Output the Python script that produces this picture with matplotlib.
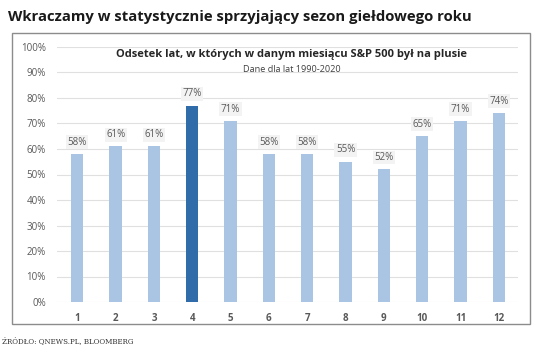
import matplotlib.pyplot as plt
from matplotlib.patches import Rectangle

months = list(range(1, 13))
values = [58, 61, 61, 77, 71, 58, 58, 55, 52, 65, 71, 74]
highlight = 4
yticks = list(range(0, 101, 10))

light = "#a9c5e3"
dark = "#2f6ca9"
tick_color = "#595959"

fig = plt.figure(figsize=(5.36, 3.57), dpi=100)
fig.patch.set_facecolor("white")

# frame round the chart
fig.patches.append(Rectangle((12 / 536, 1 - 324 / 357), 518 / 536, 291 / 357,
                             transform=fig.transFigure, fill=False,
                             edgecolor="#8c8c8c", linewidth=1.0))

ax = fig.add_axes([57 / 536, 1 - 302 / 357, 461 / 536, 255 / 357])
colors = [dark if m == highlight else light for m in months]
ax.bar(months, values, width=0.32, color=colors, zorder=2)

for m, v in zip(months, values):
    ax.text(m, v + 2.5, f"{v}%", ha="center", va="bottom", fontsize=7,
            color=tick_color, family="Open Sans",
            bbox=dict(boxstyle="square,pad=0.15", facecolor="#f3f3f3",
                      edgecolor="none"))

ax.set_xlim(0.47, 12.5)
ax.set_ylim(0, 100)
ax.set_yticks(yticks)
ax.set_yticklabels([f"{t}%" for t in yticks])
ax.set_xticks(months)
ax.grid(axis="y", color="#e0e0e0", linewidth=0.8, zorder=0)
for s in ax.spines.values():
    s.set_visible(False)
ax.tick_params(axis="both", length=0, colors=tick_color, labelsize=7)
ax.tick_params(axis="y", pad=8)
ax.tick_params(axis="x", pad=8)
for lbl in ax.get_xticklabels():
    lbl.set_fontweight("bold")
    lbl.set_family("Open Sans")
for lbl in ax.get_yticklabels():
    lbl.set_family("Open Sans")

fig.text(8 / 536, 1 - 17 / 357, "Wkraczamy w statystycznie sprzyjający sezon giełdowego roku",
         fontsize=10.7, fontweight="bold", family="Open Sans", color="#1a1a1a",
         va="center", ha="left")
fig.text(292 / 536, 1 - 55 / 357,
         "Odsetek lat, w których w danym miesiącu S&P 500 był na plusie",
         fontsize=8, fontweight="bold", family="Open Sans", color="#262626",
         ha="center", va="center")
fig.text(292 / 536, 1 - 69 / 357, "Dane dla lat 1990-2020", fontsize=6.6,
         family="Open Sans", color="#404040", ha="center", va="center")
fig.text(2 / 536, 1 - 341 / 357, "ŹRÓDŁO: QNEWS.PL, BLOOMBERG", fontsize=5.1,
         family="DejaVu Serif", color="#333333", ha="left", va="center")

fig.savefig("out.png", dpi=100)
